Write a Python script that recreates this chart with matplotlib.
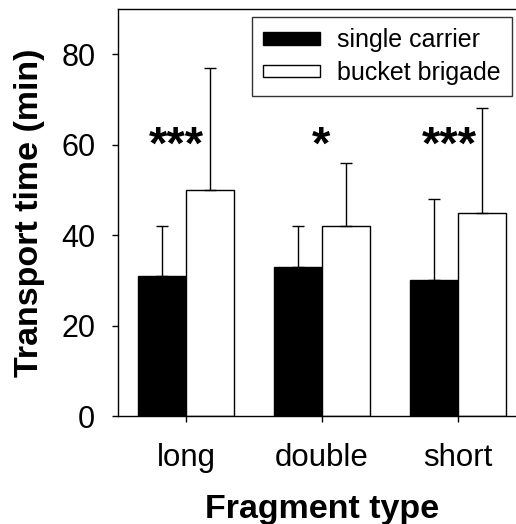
import numpy as np
import matplotlib.pyplot as plt

plt.rcParams['font.family'] = ['Liberation Sans', 'DejaVu Sans']

# transport time per fragment type (mean and upper SD)
fragments = ['long', 'double', 'short']
single_mean = [31, 33, 30]
single_err = [11, 9, 18]
bucket_mean = [50, 42, 45]
bucket_err = [27, 14, 23]
signif = ['***', '*', '***']
sig_shift = [-0.07, -0.01, -0.06]
sig_y = 59.5

x = np.arange(len(fragments))
w = 0.35

fig = plt.figure(figsize=(5.16, 5.24), dpi=100)
ax = fig.add_axes([118 / 516, 108 / 524, 408 / 516, 407 / 524])

ax.bar(x - w / 2, single_mean, w, color='black', edgecolor='black', lw=1,
       label='single carrier')
ax.bar(x + w / 2, bucket_mean, w, color='white', edgecolor='black', lw=1,
       label='bucket brigade')
ax.errorbar(x - w / 2, single_mean, yerr=[np.zeros(3), single_err], fmt='none',
            ecolor='black', elinewidth=1, capsize=4, capthick=1)
ax.errorbar(x + w / 2, bucket_mean, yerr=[np.zeros(3), bucket_err], fmt='none',
            ecolor='black', elinewidth=1, capsize=4, capthick=1)

for xi, s, dx in zip(x, signif, sig_shift):
    ax.text(xi + dx, sig_y, s, ha='center', va='center', fontsize=34,
            fontweight='bold')

ax.set_xlim(-0.5, 2.5)
ax.set_ylim(0, 90)
ax.set_yticks([0, 20, 40, 60, 80])
ax.set_xticks(x)
ax.set_xticklabels(fragments)
ax.tick_params(axis='both', labelsize=22.5, direction='out', length=4.3, width=1)
ax.tick_params(axis='x', pad=15)
ax.tick_params(axis='y', labelsize=22, pad=12)
ax.spines['right'].set_visible(False)
for sp in ['left', 'bottom', 'top']:
    ax.spines[sp].set_linewidth(1)

ax.set_xlabel('Fragment type', fontsize=24.5, fontweight='bold', labelpad=15)
ax.set_ylabel('Transport time (min)', fontsize=24.5, fontweight='bold', labelpad=12)

leg = ax.legend(loc='upper left', bbox_to_anchor=((252 - 118) / 408, 1 - 8 / 407),
                fontsize=18, frameon=True, fancybox=False, handlelength=2.25,
                handleheight=0.4, handletextpad=0.7, labelspacing=0.35,
                borderpad=0.45, borderaxespad=0)
leg.get_frame().set_edgecolor('black')
leg.get_frame().set_linewidth(1)

fig.savefig('out.png', dpi=100)
